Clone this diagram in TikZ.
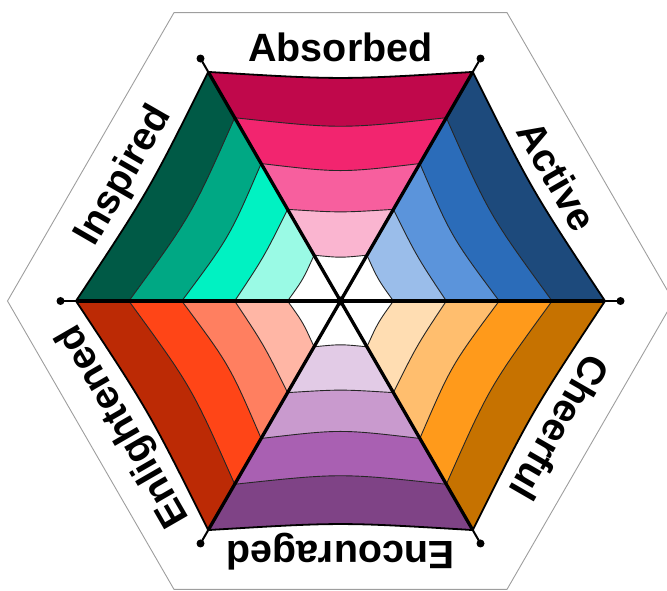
\documentclass[tikz,border=0pt]{standalone}
\usepackage{fontspec}
\setmainfont{Liberation Sans}
% sector 1 Absorbed (top)
\definecolor{c15}{HTML}{C0084B}\definecolor{c14}{HTML}{F2256F}\definecolor{c13}{HTML}{F75F9E}\definecolor{c12}{HTML}{FAB5D0}
% sector 2 Active
\definecolor{c25}{HTML}{1D4A7C}\definecolor{c24}{HTML}{2B6CB9}\definecolor{c23}{HTML}{5B94DB}\definecolor{c22}{HTML}{9ABDEA}
% sector 3 Cheerful
\definecolor{c35}{HTML}{C67200}\definecolor{c34}{HTML}{FF9A1B}\definecolor{c33}{HTML}{FFBE6E}\definecolor{c32}{HTML}{FFDDB2}
% sector 4 Encouraged
\definecolor{c45}{HTML}{7F4386}\definecolor{c44}{HTML}{A960B2}\definecolor{c43}{HTML}{C99ACE}\definecolor{c42}{HTML}{E2CBE6}
% sector 5 Enlightened
\definecolor{c55}{HTML}{BC2A05}\definecolor{c54}{HTML}{FF4517}\definecolor{c53}{HTML}{FF7F60}\definecolor{c52}{HTML}{FFB6A5}
% sector 6 Inspired
\definecolor{c65}{HTML}{005A46}\definecolor{c64}{HTML}{00A884}\definecolor{c63}{HTML}{00F2C2}\definecolor{c62}{HTML}{9AFAE5}
\begin{document}
\begin{tikzpicture}[x=1pt,y=1pt,
  lbl/.style={anchor=base, inner sep=0pt, font=\bfseries\fontsize{39.5}{40}\selectfont},
  hexline/.style={draw=black!38, line width=0.9pt},
  arcline/.style={draw=black!85, line width=0.9pt},
  outerarc/.style={draw=black, line width=1.8pt},
  spoke/.style={draw=black, line width=3.3pt},
  spokeext/.style={draw=black, line width=2pt}]
\useasboundingbox (0,0) rectangle (667,590);
\clip (0,0) rectangle (667,590);
\begin{scope}[shift={(340.5,289)}]
  % outer thin hexagon
  \draw[hexline] (0:333) -- (60:333) -- (120:333) -- (180:333) -- (240:333) -- (300:333) -- cycle;
  % colored bands
  \foreach \a [count=\s] in {60,0,-60,-120,180,120} {
    \foreach \i/\ro/\co/\ri/\ci in {2/105.8/88.30/52.9/43.15, 3/158.7/128.11/105.8/88.30, 4/211.6/171.92/158.7/128.11, 5/264.5/221.06/211.6/171.92} {
      \fill[c\s\i] (\a:\ri) -- (\a:\ro) .. controls ({\a+30}:\co) .. ({\a+60}:\ro) -- ({\a+60}:\ri) .. controls ({\a+30}:\ci) .. (\a:\ri) -- cycle;
    }
    \foreach \r/\c in {52.9/43.15, 105.8/88.30, 158.7/128.11, 211.6/171.92}
      \draw[arcline] (\a:\r) .. controls ({\a+30}:\c) .. ({\a+60}:\r);
    \draw[outerarc] (\a:264.5) .. controls ({\a+30}:221.06) .. ({\a+60}:264.5);
  }
  % spokes and end dots
  \foreach \a in {0,60,120,180,240,300} {
    \coordinate (tip\a) at (\a:280);
    \coordinate (v\a) at (\a:264.5);
    \draw[spokeext] (0,0) -- (tip\a);
    \draw[spoke] (0,0) -- (v\a);
    \fill (tip\a) circle (4);
  }
  \fill (0,0) circle (4.5);
  % labels
  \node[lbl, rotate=0]    (labs) at (90:239.5)  {Absorbed};
  \node[lbl, rotate=-60]  (lact) at (30:236)    {Active};
  \node[lbl, rotate=-120] (lche) at (-30:239.5) {Cheerful};
  \node[lbl, rotate=180]  (lenc) at (-90:240.5) {Encouraged};
  \node[lbl, rotate=120]  (lenl) at (210:239.5) {Enlightened};
  \node[lbl, rotate=60]   (lins) at (150:239.5) {Inspired};
\end{scope}
\end{tikzpicture}
\end{document}
